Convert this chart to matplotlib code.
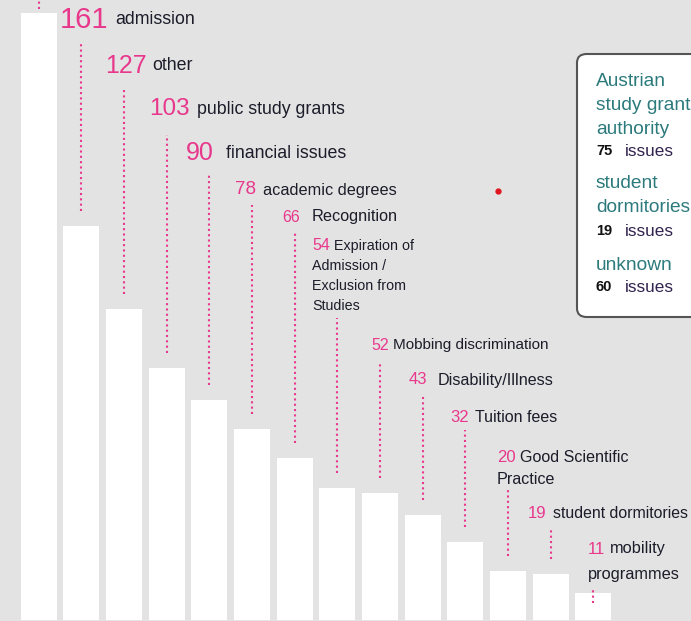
import matplotlib
matplotlib.use("Agg")
import matplotlib.pyplot as plt
from matplotlib.patches import FancyBboxPatch

# ---------------- data ----------------
categories = [None, "admission", "other", "public study grants", "financial issues",
              "academic degrees", "Recognition",
              "Expiration of\nAdmission /\nExclusion from\nStudies",
              "Mobbing discrimination", "Disability/Illness", "Tuition fees",
              "Good Scientific\nPractice", "student dormitories", "mobility\nprogrammes"]
values = [248, 161, 127, 103, 90, 78, 66, 54, 52, 43, 32, 20, 19, 11]

box_names = ["Austrian\nstudy grant\nauthority", "student\ndormitories", "unknown"]
box_counts = [75, 19, 60]

# ---------------- layout (pixels) ----------------
W, H = 691, 621
BAR0, STEP, BARW = 38.5, 42.69, 36
BASE, SCALE = 620, 2.447

num_pos = [None, (60, 20), (105, 66), (149, 109), (186, 153), (235, 190), (282, 217),
           (312, 246), (371, 345), (409, 380), (450, 418), (497, 457), (528, 513), (588, 549)]
num_size = [0, 21, 18, 17.5, 18, 13.5, 11.5, 11.5, 11.5, 12, 12, 12, 12, 12]
lab_x = [None, 115, 152, 197, 226, 263, 312, 334, 393, 438, 475, 520, 553, 610]
lab_size = [0, 12.8, 12.8, 12.8, 12.8, 11.7, 11.7, 10.3, 11, 11.6, 11.5, 11.6, 11.4, 11.8]
lab_lh = [0, 20, 20, 20, 20, 20, 20, 20, 20, 20, 20, 23, 20, 25]
line_top = [-20, 44, 90, 135, 175, 205, 232, 318, 362, 395, 430, 490, 528, 590]
line_gap = [4, 15, 15, 15, 15, 15, 15, 15, 15, 15, 15, 15, 15, -10]

PINK = "#e8388c"
TXT = "#1c1c2a"
BG = "#e3e3e3"
TEAL = "#2c7a7c"


def dx(px):
    return (px - BAR0) / STEP


def dy(py):
    return (BASE - py) / SCALE


fig = plt.figure(figsize=(W / 100, H / 100), dpi=100)
fig.patch.set_facecolor(BG)
ax = fig.add_axes([0, 0, 1, 1])
ax.set_facecolor(BG)
ax.set_xlim(dx(0), dx(W))
ax.set_ylim(dy(H), dy(0))
ax.axis("off")

FAM = ["Liberation Sans", "DejaVu Sans"]

xs = list(range(len(values)))
ax.bar(xs, values, width=BARW / STEP, color="white", edgecolor="none", zorder=2)

for i, v in enumerate(values):
    top_px = BASE - v * SCALE
    y_bot = dy(top_px - line_gap[i])
    y_top = dy(line_top[i])
    ax.plot([i, i], [y_bot, y_top], color=PINK, lw=1.5,
            linestyle=(0, (1, 1.55)), zorder=3, clip_on=True)
    if categories[i] is None:
        continue
    nx, ny = num_pos[i]
    ax.text(dx(nx), dy(ny), str(v), color=PINK, fontsize=num_size[i],
            va="center", ha="left", family=FAM, zorder=4)
    lines = categories[i].split("\n")
    ax.text(dx(lab_x[i]), dy(ny), lines[0], color=TXT, fontsize=lab_size[i],
            va="center", ha="left", family=FAM, zorder=4)
    for k, ln in enumerate(lines[1:], start=1):
        ax.text(dx(nx), dy(ny + k * lab_lh[i]), ln, color=TXT, fontsize=lab_size[i],
                va="center", ha="left", family=FAM, zorder=4)

# red dot
ax.plot([dx(498)], [dy(191)], "o", color="#e0141e", ms=3.5, zorder=5)

# side box
box = FancyBboxPatch((577 / W, 1 - 317 / H), 0.3, (317 - 54) / H,
                     boxstyle="round,pad=0,rounding_size=0.014",
                     transform=fig.transFigure, facecolor="white",
                     edgecolor="#555555", lw=1.5, zorder=5, clip_on=False)
fig.patches.append(box)

name_y = [82, 183, 266]
line_h = [24, 25, 0]
cnt_y = [151, 231, 287]
for name, cnt, ny0, lh, cy in zip(box_names, box_counts, name_y, line_h, cnt_y):
    for k, ln in enumerate(name.split("\n")):
        fig.text(596 / W, 1 - (ny0 + k * lh) / H, ln, color=TEAL, fontsize=13.8,
                 va="center", ha="left", family=FAM, zorder=6)
    fig.text(596 / W, 1 - cy / H, str(cnt), color="#111111", fontsize=10.5,
             fontweight="bold", va="center", ha="left", family=FAM, zorder=6)
    fig.text(625 / W, 1 - cy / H, "issues", color="#33244f", fontsize=12.3,
             va="center", ha="left", family=FAM, zorder=6)

fig.savefig("out.png", dpi=100, facecolor=BG)
